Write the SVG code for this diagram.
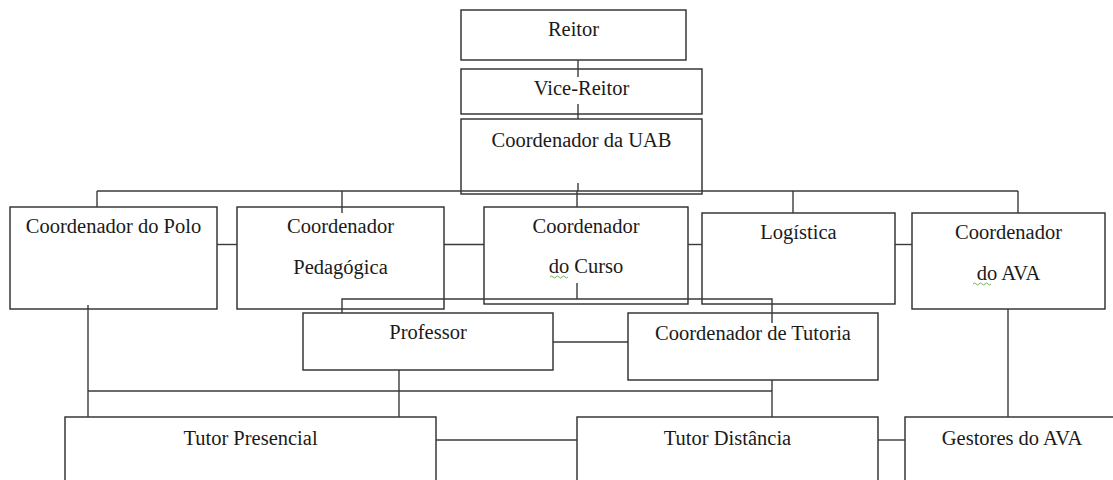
<svg xmlns="http://www.w3.org/2000/svg" width="1113" height="480" viewBox="0 0 1113 480">
<style>
.box{fill:#fff;stroke:#2a2a2a;stroke-width:1.4}
.lbl{font-family:"Liberation Serif","Times New Roman",serif;font-size:20.5px;fill:#1a1a1a;text-anchor:middle}
.cn{fill:none;stroke:#3a3a3a;stroke-width:1.4}
.sq{fill:none;stroke:#6aa84f;stroke-width:0.9}
</style>
<rect width="1113" height="480" fill="#fff"/>
<g id="reitor"><rect class="box" x="461" y="10" width="225" height="50"/><text class="lbl" x="573.5" y="36">Reitor</text></g>
<g id="vice-reitor"><rect class="box" x="461" y="69" width="241" height="45"/><text class="lbl" x="581.5" y="95">Vice-Reitor</text></g>
<g id="coord-uab"><rect class="box" x="461" y="119" width="241" height="75"/><text class="lbl" x="581.5" y="147">Coordenador da UAB</text></g>
<g id="coord-polo"><rect class="box" x="10" y="207" width="207" height="102"/><text class="lbl" x="113.5" y="233">Coordenador do Polo</text></g>
<g id="coord-pedagogica"><rect class="box" x="237" y="207" width="207" height="102"/><text class="lbl" x="340.5" y="233">Coordenador</text><text class="lbl" x="340.5" y="274">Pedagógica</text></g>
<g id="coord-curso"><rect class="box" x="484" y="207" width="204" height="97"/><text class="lbl" x="586" y="233">Coordenador</text><text class="lbl" x="586" y="273">do Curso</text><path class="sq" d="M550 277 q1.5 -2 3 0 t3 0 t3 0 t3 0 t3 0 t3 0"/></g>
<g id="logistica"><rect class="box" x="702" y="213" width="193" height="91"/><text class="lbl" x="798.5" y="239">Logística</text></g>
<g id="coord-ava"><rect class="box" x="912" y="213" width="193" height="96"/><text class="lbl" x="1008.5" y="239">Coordenador</text><text class="lbl" x="1008.5" y="280">do AVA</text><path class="sq" d="M973 284 q1.5 -2 3 0 t3 0 t3 0 t3 0 t3 0 t3 0"/></g>
<g id="professor"><rect class="box" x="303" y="313" width="250" height="57"/><text class="lbl" x="428" y="339">Professor</text></g>
<g id="coord-tutoria"><rect class="box" x="628" y="313" width="250" height="67"/><text class="lbl" x="753" y="340">Coordenador de Tutoria</text></g>
<g id="tutor-presencial"><rect class="box" x="65" y="417" width="371" height="80"/><text class="lbl" x="250.5" y="445">Tutor Presencial</text></g>
<g id="tutor-distancia"><rect class="box" x="577" y="417" width="301" height="80"/><text class="lbl" x="727.5" y="445">Tutor Distância</text></g>
<g id="gestores-ava"><rect class="box" x="905" y="417" width="220" height="80"/><text class="lbl" x="1012" y="445">Gestores do AVA</text></g>
<g id="connectors">
<path class="cn" d="M578 60V77"/>
<path class="cn" d="M578 104V119"/>
<path class="cn" d="M578 183V191"/>
<path class="cn" d="M97 191H1018"/>
<path class="cn" d="M97 191V207"/>
<path class="cn" d="M342 191V213"/>
<path class="cn" d="M577 191V207"/>
<path class="cn" d="M793 191V213"/>
<path class="cn" d="M1018 191V213"/>
<path class="cn" d="M217 244.5H237"/>
<path class="cn" d="M444 244.5H484"/>
<path class="cn" d="M688 244.5H702"/>
<path class="cn" d="M895 244.5H912"/>
<path class="cn" d="M577 283V299"/>
<path class="cn" d="M342 313V299H772V323"/>
<path class="cn" d="M553 342H628"/>
<path class="cn" d="M88 305V417"/>
<path class="cn" d="M88 391H772"/>
<path class="cn" d="M399 370V417"/>
<path class="cn" d="M772 380V417"/>
<path class="cn" d="M1008 309V417"/>
<path class="cn" d="M436 440H577"/>
<path class="cn" d="M878 440H905"/>
</g>
</svg>
